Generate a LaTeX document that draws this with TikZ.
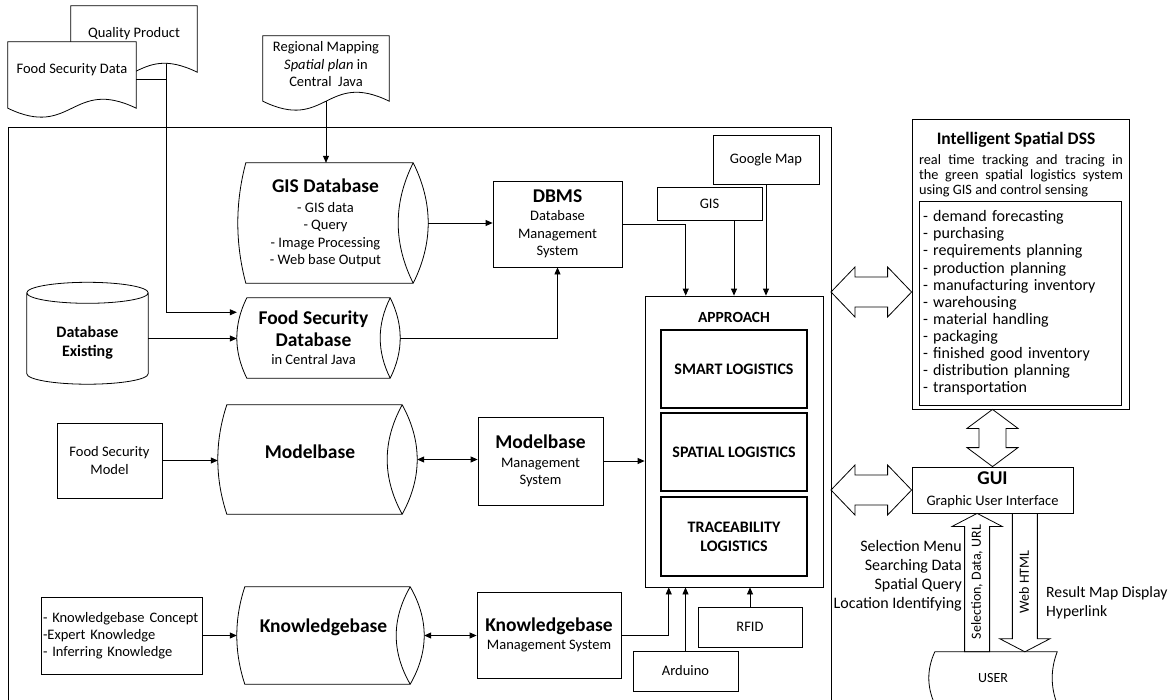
\documentclass[tikz,border=0pt]{standalone}
\usepackage{fontspec}
\setmainfont{Carlito}
\usetikzlibrary{arrows.meta,calc}
\pgfdeclarelayer{wires}
\pgfdeclarelayer{sheets}
\pgfsetlayers{wires,sheets,main}

\newcommand\ttl[1]{{\fontsize{19.5}{23}\selectfont\bfseries #1}}
% horizontal drum: node, left bulge, lens bulge
\newcommand\drum[3]{%
  \draw[thinline] let \p1=(#1.north west), \p2=(#1.south east), \n1={(\y2-\y1)/3} in
    (\x1+#2pt,\y1) .. controls (\x1-#2pt/3,\y1+\n1) and (\x1-#2pt/3,\y1+2*\n1) .. (\x1+#2pt,\y2)
    -- (\x2,\y2) .. controls (\x2+4*#3pt/3,\y1+2*\n1) and (\x2+4*#3pt/3,\y1+\n1) .. (\x2,\y1) -- cycle
    (\x2,\y1) .. controls (\x2-4*#3pt/3,\y1+\n1) and (\x2-4*#3pt/3,\y1+2*\n1) .. (\x2,\y2);
  \coordinate (#1r) at ([xshift=#3pt]#1.east);}
% document sheet: node, depth of the wave below the node
\newcommand\docshape[2]{%
  \draw[thinline,fill=white] let \p1=(#1.north west), \p2=(#1.south east), \p3=(#1.south) in
    (\x1,\y1) -- (\x2,\y1) -- (\x2,\y2-#2pt)
    .. controls (\x3,\y2-#2pt+31pt) and (\x3,\y2-#2pt-31pt) .. (\x1,\y2-#2pt) -- cycle;
  \coordinate (#1b) at ([yshift=-#2pt]#1.south);}
% hollow block arrows
\newcommand\hollowdbl[2]{%
  \draw[thinline] let \p1=(#1), \p2=(#2) in
    (\p1) -- (\x1+24pt,\y1+25pt) -- (\x1+24pt,\y1+15pt) -- (\x2-24pt,\y1+15pt)
    -- (\x2-24pt,\y1+25pt) -- (\p2) -- (\x2-24pt,\y1-25pt) -- (\x2-24pt,\y1-15pt)
    -- (\x1+24pt,\y1-15pt) -- (\x1+24pt,\y1-25pt) -- cycle;}
\newcommand\hollowvdbl[2]{%
  \draw[thinline] let \p1=(#1), \p2=(#2) in
    (\p1) -- (\x1+25.5pt,\y1-19pt) -- (\x1+13.5pt,\y1-19pt) -- (\x1+13.5pt,\y2+19pt)
    -- (\x1+25.5pt,\y2+19pt) -- (\p2) -- (\x1-25.5pt,\y2+19pt) -- (\x1-13.5pt,\y2+19pt)
    -- (\x1-13.5pt,\y1-19pt) -- (\x1-25.5pt,\y1-19pt) -- cycle;}
\newcommand\hollowsingle[2]{%
  \draw[thinline] let \p1=(#1), \p2=(#2), \n1={ifthenelse(\y2>\y1,1,-1)} in
    (\p1) -- (\x1+25pt,\y1+13pt*\n1) -- (\x1+12.5pt,\y1+13pt*\n1) -- (\x1+12.5pt,\y2)
    -- (\x1-12.5pt,\y2) -- (\x1-12.5pt,\y1+13pt*\n1) -- (\x1-25pt,\y1+13pt*\n1) -- cycle;}

\tikzset{
  lbl/.style={font=\fontsize{14.5}{17.5}\selectfont, inner sep=0pt, align=center},
  blk/.style={lbl, draw, line width=0.8pt},
  heavyblk/.style={blk, line width=2.6pt, font=\fontsize{16}{19}\selectfont\bfseries},
  thinline/.style={line width=0.8pt},
  link/.style={thinline, -{Triangle[length=7pt,width=6pt]}},
  duplex/.style={thinline, {Triangle[length=7pt,width=6pt]}-{Triangle[length=7pt,width=6pt]}},
}

\begin{document}
\begin{tikzpicture}[x=1pt,y=-1pt]
\useasboundingbox (0,0) rectangle (1175,699);
\clip (0,0) rectangle (1175,699);

% source documents
\node[lbl, minimum width=126pt, minimum height=56pt] (qual) at (134,34) {Quality Product};
\node[lbl, minimum width=128pt, minimum height=56pt] (fsdata) at (72,70) {Food Security Data};
\node[lbl, minimum width=126pt, minimum height=57pt] (regmap) at (326,64.5)
  {Regional Mapping\\\textit{Spatial plan} in\\Central\ \ Java};

% system frame
\draw[thinline] (8,712) -- (8,127) -- (831,127) -- (831,712);
\coordinate (frameR) at (831,292);

% databases
\node[lbl, minimum width=175pt, minimum height=120pt] (gisdb) at (325.5,223)
  {\ttl{GIS Database}\\[2pt]- GIS data\\- Query\\- Image Processing\\- Web base Output};
\drum{gisdb}{8}{15}
\node[lbl, minimum width=153pt, minimum height=80pt] (fsdb) at (313.5,338)
  {\ttl{Food Security}\\[4pt]\ttl{Database}\\[1pt]in Central Java};
\drum{fsdb}{10}{10}
\node[lbl, minimum width=121pt, minimum height=91pt] (dbexist) at (87.5,338.5) {};
\node[lbl, font=\fontsize{16}{19.5}\selectfont\bfseries] (dbexisttxt)
  at ([yshift=-4pt]dbexist.center) {Database\\Existing};
\draw[thinline] let \p1=(dbexist.north west), \p2=(dbexist.south east) in
  (dbexist.north) ellipse [x radius=(\x2-\x1)/2, y radius=10.5pt]
  (\x1,\y1) -- (\x1,\y2+10.5pt) arc [start angle=180, end angle=360, x radius=(\x2-\x1)/2, y radius=10.5pt]
  -- (\x2,\y1);
\node[lbl, minimum width=184pt, minimum height=109pt] (modelb) at (310,459.5) {};
\node[lbl] (modelbtxt) at ([yshift=7.5pt]modelb.center) {\ttl{Modelbase}};
\drum{modelb}{9}{15}
\node[lbl, minimum width=173pt, minimum height=97pt] (knowb) at (323.5,635.5) {};
\node[lbl] (knowbtxt) at ([yshift=8.5pt]knowb.center) {\ttl{Knowledgebase}};
\drum{knowb}{8}{14}

% inputs and management systems
\node[blk, minimum width=105pt, minimum height=75pt] (fsmodel) at (109.5,460.5) {Food Security\\Model};
\node[blk, font=\fontsize{14.5}{17}\selectfont, align=left, text width=157pt,
  minimum width=161pt, minimum height=77pt] (kconcept) at (121.5,635.5)
  {- Knowledgebase Concept\\-Expert Knowledge\\- Inferring Knowledge};
\node[blk, minimum width=129pt, minimum height=86pt] (dbms) at (557.5,224)
  {\ttl{DBMS}\\[1pt]Database\\Management\\System};
\node[blk, minimum width=125pt, minimum height=88pt] (mms) at (540.5,461)
  {\ttl{Modelbase}\\[1.5pt]Management\\System};
\node[blk, minimum width=144pt, minimum height=86pt] (kms) at (549,635)
  {\ttl{Knowledgebase}\\[1pt]Management System};
\node[blk, minimum width=105pt, minimum height=33pt] (gis) at (709.5,203.5) {GIS};
\node[blk, minimum width=106pt, minimum height=49pt] (gmap) at (766,159.5) {Google Map};

% approach
\node[blk, minimum width=178pt, minimum height=291pt] (approach) at (734,441.5) {};
\node[lbl, font=\fontsize{15.5}{18}\selectfont\bfseries] (apptitle) at (734,317) {APPROACH};
\node[heavyblk, minimum width=146pt, minimum height=78pt] (smart) at (734,369) {SMART LOGISTICS};
\node[heavyblk, minimum width=146pt, minimum height=78pt] (spatial) at (734,452) {SPATIAL LOGISTICS};
\node[heavyblk, minimum width=146pt, minimum height=79pt] (trace) at (734,536.5) {TRACEABILITY\\LOGISTICS};
\node[blk, minimum width=104pt, minimum height=40pt] (rfid) at (750,627) {RFID};
\node[blk, minimum width=105pt, minimum height=40pt] (arduino) at (685.5,671) {Arduino};

% decision support side
\node[blk, minimum width=217pt, minimum height=290pt] (dss) at (1020.5,264) {};
\node[lbl, font=\fontsize{17.5}{21}\selectfont\bfseries] (dsstitle) at (1016,140) {Intelligent Spatial DSS};
\node[lbl, font=\fontsize{14.3}{15}\selectfont, text width=204pt, align=justify] (dssdesc) at (1021,176)
  {real time tracking and tracing in\linebreak the green spatial logistics system\linebreak using GIS and control sensing};
\node[blk, font=\fontsize{16}{17.1}\selectfont, align=left, text width=194pt,
  minimum width=202pt, minimum height=204pt] (dsslist) at (1020,303)
  {- demand forecasting\\- purchasing\\- requirements planning\\- production planning\\
   - manufacturing inventory\\- warehousing\\- material handling\\- packaging\\
   - finished good inventory\\- distribution planning\\- transportation};
\node[blk, minimum width=161pt, minimum height=46pt] (gui) at (992.5,490)
  {\ttl{GUI}\\[3pt]Graphic User Interface};
\node[lbl, font=\fontsize{14}{17}\selectfont, minimum width=128pt, minimum height=52pt] (user) at (993,678) {USER};
\draw[thinline] let \p1=(user.north west), \p2=(user.south east), \n1={(\y2-\y1)/3} in
  (\x1+6pt,\y1) -- (\x2,\y1) .. controls (\x2-20pt/3,\y1+\n1) and (\x2-20pt/3,\y1+2*\n1) .. (\x2,\y2)
  -- (\x1+6pt,\y2) .. controls (\x1-2pt,\y1+2*\n1) and (\x1-2pt,\y1+\n1) .. cycle;
\node[lbl, font=\fontsize{16}{19}\selectfont, align=right, anchor=east] (asklbl) at (962,575.5)
  {Selection Menu\\Searching Data\\Spatial Query\\Location Identifying};
\node[lbl, font=\fontsize{15.7}{19}\selectfont, align=left, anchor=west] (replylbl) at (1046,602.5)
  {Result Map Display\\Hyperlink};
\node[lbl, font=\fontsize{14}{17}\selectfont, rotate=90] (asktxt) at (977,582) {Selection, Data, URL};
\node[lbl, font=\fontsize{14}{17}\selectfont, rotate=90] (replytxt) at (1024,582) {Web HTML};

% document outlines
\coordinate (join) at (166,79);
\begin{pgfonlayer}{wires}
\draw[thinline] (join |- qual.south) -- (join);
\end{pgfonlayer}
\begin{pgfonlayer}{sheets}
\docshape{qual}{10}
\docshape{fsdata}{10}
\docshape{regmap}{8}
\end{pgfonlayer}

% connectors
\draw[thinline] (fsdata.east |- join) -- (join);
\draw[link] (join) |- ($(fsdb.north west)!0.18!(fsdb.south west)$);
\draw[link] (regmapb) -- (regmapb |- gisdb.north);
\draw[link] (gisdbr) -- (gisdbr -| dbms.west);
\draw[link] (dbexist.east) -- (dbexist.east -| fsdb.west);
\draw[link] (fsdbr) -| (dbms.south);
\draw[link] (dbms.east) -| ($(approach.north west)!0.23!(approach.north east)$);
\draw[link] (gis.south -| approach.north) -- (approach.north);
\draw[link] (gmap.south) -- (gmap.south |- approach.north);
\draw[link] (fsmodel.east) -- (fsmodel.east -| modelb.west);
\draw[duplex] (modelbr) -- (modelbr -| mms.west);
\draw[link] (mms.east) -- (mms.east -| approach.west);
\draw[link] (kconcept.east) -- (kconcept.east -| knowb.west);
\draw[duplex] (knowbr) -- (knowbr -| kms.west);
\draw[link] (kms.east) -| ($(approach.south west)!0.135!(approach.south east)$);
\draw[link] (arduino.north) -- (arduino.north |- approach.south);
\draw[link] (rfid.north) -- (rfid.north |- approach.south);

% block arrows
\coordinate (askpt) at ($(gui.south west)!0.405!(gui.south east)$);
\coordinate (replypt) at ($(gui.south west)!0.7!(gui.south east)$);
\hollowdbl{frameR}{frameR -| dss.west}
\hollowdbl{gui.west -| frameR}{gui.west}
\hollowvdbl{gui.north |- dss.south}{gui.north}
\hollowsingle{askpt}{askpt |- user.north}
\hollowsingle{replypt |- user.north}{replypt}
\end{tikzpicture}
\end{document}
